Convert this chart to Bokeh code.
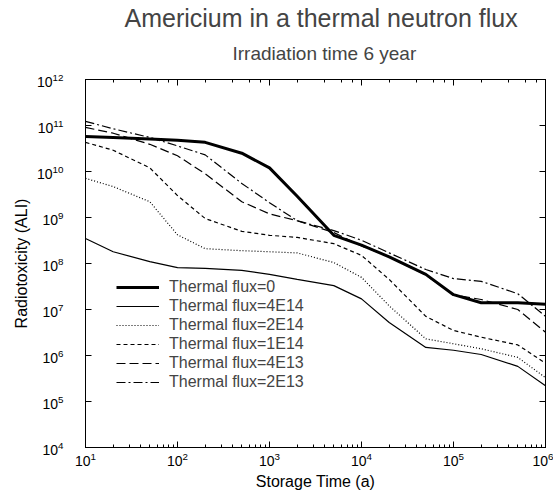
from bokeh.plotting import figure
from bokeh.models import LogAxis, Title, Legend, LegendItem, Range1d, CustomJSTickFormatter
from bokeh.embed import file_html
from bokeh.resources import INLINE

# Storage time (years)
times = [10, 20, 50, 100, 200, 500, 1000, 2000, 5000,
         1e4, 2e4, 5e4, 1e5, 2e5, 5e5, 1e6]

# Radiotoxicity (ALI) for each thermal flux
flux_0    = [5.8e10, 5.5e10, 5.1e10, 4.8e10, 4.3e10, 2.5e10, 1.2e10, 2.9e9, 4.1e8,
             2.5e8, 1.4e8, 5.8e7, 2.1e7, 1.4e7, 1.4e7, 1.3e7]
flux_4e14 = [3.5e8, 1.8e8, 1.1e8, 8.1e7, 7.8e7, 7.1e7, 5.8e7, 4.5e7, 3.3e7,
             1.7e7, 5.2e6, 1.5e6, 1.3e6, 1.05e6, 5.8e5, 2.2e5]
flux_2e14 = [7.1e9, 4.7e9, 2.2e9, 4.2e8, 2.1e8, 1.9e8, 1.8e8, 1.7e8, 1.05e8,
             5.0e7, 1.2e7, 2.3e6, 1.8e6, 1.4e6, 9.1e5, 3.3e5]
flux_1e14 = [4.3e10, 2.9e10, 1.2e10, 3.0e9, 9.5e8, 5.0e8, 4.1e8, 3.7e8, 2.7e8,
             1.5e8, 4.5e7, 7.1e6, 3.5e6, 2.5e6, 1.7e6, 6.8e5]
flux_4e13 = [9.1e10, 6.8e10, 3.9e10, 2.2e10, 8.9e9, 2.2e9, 1.2e9, 8.5e8, 4.7e8,
             2.4e8, 1.4e8, 5.6e7, 2.1e7, 1.65e7, 1.0e7, 3.2e6]
flux_2e13 = [1.23e11, 8.5e10, 5.5e10, 3.6e10, 2.3e10, 5.5e9, 2.1e9, 8.5e8, 5.2e8,
             3.2e8, 1.7e8, 7.4e7, 4.7e7, 4.1e7, 2.2e7, 7.1e6]

labels = ["Thermal flux=0", "Thermal flux=4E14", "Thermal flux=2E14",
          "Thermal flux=1E14", "Thermal flux=4E13", "Thermal flux=2E13"]

FONT = "Liberation Sans"

p = figure(width=553, height=493, x_axis_type="log", y_axis_type="log",
           x_range=Range1d(10, 1e6), y_range=Range1d(1e4, 1e12),
           output_backend="svg", toolbar_location=None,
           min_border_left=85, min_border_right=8, min_border_top=79,
           min_border_bottom=46)
p.title.visible = False

p.xgrid.visible = False
p.ygrid.visible = False
p.outline_line_color = "black"
p.outline_line_width = 1
p.background_fill_color = "white"
p.border_fill_color = "white"


def style_axis(ax, minor=True):
    ax.axis_line_color = "black"
    ax.major_tick_in = 6
    ax.major_tick_out = 0
    ax.major_tick_line_color = "black"
    if minor:
        ax.minor_tick_in = 3
        ax.minor_tick_out = 0
        ax.minor_tick_line_color = "black"
    else:
        ax.minor_tick_line_color = None
    ax.major_label_text_font = FONT
    ax.major_label_text_font_size = "14px"
    ax.major_label_text_color = "black"
    ax.axis_label_text_font = FONT
    ax.axis_label_text_font_size = "16px"
    ax.axis_label_text_font_style = "normal"
    ax.axis_label_text_color = "black"


xa = p.xaxis[0]
ya = p.yaxis[0]
style_axis(xa, True)
style_axis(ya, False)
xa.axis_label = "Storage Time (a)"
ya.axis_label = "Radiotoxicity (ALI)"
xa.major_label_standoff = 4
xa.axis_label_standoff = 4
ya.major_label_standoff = 18
ya.axis_label_standoff = 4

top = LogAxis(formatter=CustomJSTickFormatter(code="return ' ';"))
style_axis(top, True)
top.major_label_text_font_size = "1px"
top.major_label_standoff = 0
top.axis_label_standoff = 0
p.add_layout(top, "above")

right = LogAxis(formatter=CustomJSTickFormatter(code="return ' ';"))
style_axis(right, False)
right.major_label_text_font_size = "1px"
right.major_label_standoff = 0
right.axis_label_standoff = 0
p.add_layout(right, "right")

sub = Title(text="Irradiation time 6 year", align="left", text_font=FONT,
            text_font_size="19px", text_font_style="normal", standoff=24,
            offset=147)
p.add_layout(sub, "above")
main = Title(text="Americium in a thermal neutron flux", align="left",
             text_font=FONT, text_font_size="25px", text_font_style="normal",
             standoff=-7, offset=39)
p.add_layout(main, "above")

series = [flux_0, flux_4e14, flux_2e14, flux_1e14, flux_4e13, flux_2e13]
widths = [3, 1.2, 1.2, 1.2, 1.2, 1.2]
dashes = ["solid", "solid", "1 2", "4 3", "9 4", "9 3 2 3"]

items = []
for vals, lab, w, d in zip(series, labels, widths, dashes):
    r = p.line(times, vals, line_color="black", line_width=w, line_dash=d)
    items.append(LegendItem(label=lab, renderers=[r]))

legend = Legend(items=items, location=(31, 56), padding=0, margin=0,
                spacing=1, label_height=18, glyph_height=18, glyph_width=43,
                label_standoff=10, label_text_font=FONT,
                label_text_font_size="16px", background_fill_alpha=0,
                border_line_alpha=0)
p.add_layout(legend)

open("out.html", "w").write(file_html(p, INLINE))
